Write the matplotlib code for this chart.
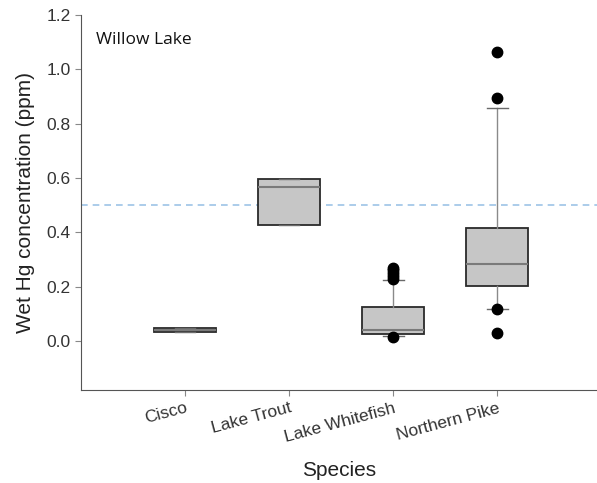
import matplotlib
matplotlib.use("Agg")
import matplotlib.pyplot as plt

# Box statistics (ppm)
species = ["Cisco", "Lake Trout", "Lake Whitefish", "Northern Pike"]
q1 = [0.035, 0.428, 0.025, 0.203]
med = [0.040, 0.568, 0.040, 0.282]
q3 = [0.047, 0.596, 0.124, 0.417]
whislo = [0.035, 0.428, 0.020, 0.119]
whishi = [0.047, 0.596, 0.224, 0.859]
fliers = [[], [], [0.015, 0.230, 0.240, 0.250, 0.260, 0.270], [0.028, 0.119, 0.894, 1.062]]
guideline = 0.5

stats = []
for i in range(len(species)):
    stats.append(dict(label=species[i], q1=q1[i], med=med[i], q3=q3[i],
                      whislo=whislo[i], whishi=whishi[i], fliers=fliers[i]))

plt.rcParams['font.family'] = ['Liberation Sans', 'DejaVu Sans']

fig = plt.figure(figsize=(5.97, 4.83), dpi=100)
ax = fig.add_axes([81 / 597, 93 / 483, 516 / 597, 375 / 483])

ax.axhline(guideline, color="#9DC3E6", linestyle=(0, (4, 3)), linewidth=1.2, zorder=1)

ax.bxp(stats, positions=[1, 2, 3, 4], widths=0.6, patch_artist=True,
       boxprops=dict(facecolor="#C6C6C6", edgecolor="#2A2A2A", linewidth=1.3),
       medianprops=dict(color="#7A7A7A", linewidth=1.5),
       whiskerprops=dict(color="#8A8A8A", linewidth=1.0),
       capprops=dict(color="#6A6A6A", linewidth=1.0),
       capwidths=0.2,
       flierprops=dict(marker="o", markerfacecolor="black", markeredgecolor="black",
                       markersize=7.5),
       zorder=2)

ax.set_xlim(0, 4.96)
ax.set_ylim(-0.18, 1.2)
ax.set_yticks([0.0, 0.2, 0.4, 0.6, 0.8, 1.0, 1.2])
ax.set_yticklabels(["0.0", "0.2", "0.4", "0.6", "0.8", "1.0", "1.2"], fontsize=12.5, color="#333333")
ax.set_xticks([1, 2, 3, 4])
ax.set_xticklabels(species, rotation=15, ha="right", rotation_mode="anchor",
                   fontsize=12.5, color="#333333")

for side in ["top", "right"]:
    ax.spines[side].set_visible(False)
for side in ["left", "bottom"]:
    ax.spines[side].set_color("#555555")
ax.tick_params(direction="out", color="#888888", length=4)

ax.set_ylabel("Wet Hg concentration (ppm)", fontsize=15, color="#222222", labelpad=8)
ax.set_xlabel("Species", fontsize=15, color="#222222", labelpad=12)

ax.text(0.03, 0.955, "Willow Lake", transform=ax.transAxes, fontsize=12.5,
        family=["Open Sans", "DejaVu Sans"], va="top", ha="left", color="#111111")

fig.savefig("out.png", dpi=100)
